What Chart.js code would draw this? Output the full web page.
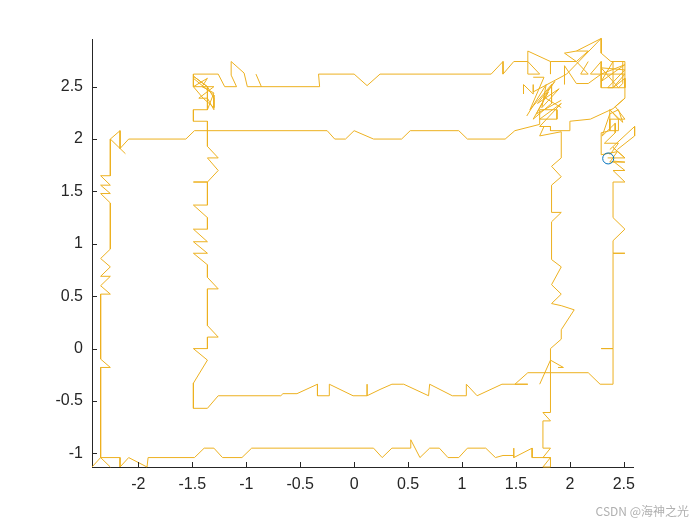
<!DOCTYPE html>
<html>
<head>
<meta charset="utf-8">
<script src="https://cdn.jsdelivr.net/npm/chart.js@4.4.1/dist/chart.umd.min.js"></script>
<style>
  html, body { margin: 0; padding: 0; background: #fff; }
  #wrap { width: 700px; height: 525px; }
</style>
</head>
<body>
<div id="wrap"><canvas id="traj" width="700" height="525"></canvas></div>
<script>
// Axis ticks
const xTicks = [-2, -1.5, -1, -0.5, 0, 0.5, 1, 1.5, 2, 2.5];
const yTicks = [-1, -0.5, 0, 0.5, 1, 1.5, 2, 2.5];

// Trajectory pieces, [x, y] in data units
const outerTop = [[-2.12,1.86],[-2.26,2.00],[-2.17,2.08],[-2.17,1.91],[-2.09,2.00],[-1.56,2.00],[-1.48,2.08],
  [-0.25,2.08],[-0.18,2.00],[-0.08,2.00],[0.00,2.08],[0.18,2.00],[0.44,2.00],[0.52,2.08],[0.97,2.08],
  [1.05,2.00],[1.40,2.00],[1.49,2.08],[1.72,2.14],[1.72,2.28],[1.88,2.28],[1.88,2.19],[1.72,2.19],
  [1.92,2.34],[1.72,2.12],[1.82,2.12],[1.82,2.08],[2.00,2.08],[2.00,2.17],[2.19,2.19],[2.40,2.29],
  [2.51,2.39],[2.51,2.74]];

const outerLeft = [[-2.26,2.00],[-2.26,1.65],[-2.35,1.65],[-2.26,1.56],[-2.35,1.56],[-2.26,1.48],[-2.35,1.48],
  [-2.26,1.39],[-2.26,0.95],[-2.35,0.86],[-2.26,0.78],[-2.35,0.69],[-2.26,0.69],[-2.35,0.60],[-2.26,0.52],
  [-2.35,0.52],[-2.35,-0.10],[-2.26,-0.18],[-2.35,-0.18],[-2.35,-1.04],[-2.43,-1.13]];

const outerBottomRight = [[-2.26,-1.13],[-2.35,-1.04],[-2.17,-1.04],[-2.17,-1.13],[-2.09,-1.04],[-1.92,-1.13],
  [-1.91,-1.04],[-1.48,-1.04],[-1.39,-0.95],[-1.30,-0.95],[-1.22,-1.04],[-1.04,-1.04],[-0.95,-0.95],
  [0.18,-0.95],[0.26,-1.04],[0.35,-0.95],[0.52,-0.95],[0.525,-0.87],[0.61,-1.04],[0.70,-0.95],[0.79,-0.95],
  [0.87,-1.04],[0.97,-1.04],[1.05,-0.95],[1.22,-0.95],[1.31,-1.04],[1.38,-1.02],[1.48,-1.02],[1.48,-0.95],
  [1.48,-1.04],[1.65,-0.95],[1.65,-1.04],[1.82,-1.04],[1.75,-1.13],[1.82,-1.13],[1.82,-1.04],[1.75,-1.04],
  [1.82,-0.95],[1.75,-0.95],[1.75,-0.69],[1.82,-0.69],[1.75,-0.61],[1.82,-0.61],[1.82,0.00],[1.92,0.09],
  [1.92,0.18],[2.04,0.37],[1.92,0.41],[1.83,0.43],[1.92,0.52],[1.83,0.61],[1.92,0.78],[1.83,0.85],
  [1.83,1.21],[1.92,1.30],[1.83,1.30],[1.83,1.56],[1.92,1.64],[1.83,1.74],[1.92,1.82],[1.92,2.07],
  [1.72,2.03],[1.76,2.12]];

const rightNotch = [[1.72,-0.34],[1.82,-0.11],[1.94,-0.18],[1.89,-0.18]];

const topLine = [[-1.26,2.62],[-1.20,2.50],[-1.09,2.50],[-1.14,2.61],[-1.14,2.74],[-1.02,2.63],[-0.99,2.50],
  [-0.32,2.50],[-0.33,2.62],[0.00,2.62],[0.12,2.51],[0.24,2.62],[1.27,2.62],[1.38,2.74],[1.38,2.62],
  [1.48,2.74],[1.61,2.74],[1.72,2.62],[1.61,2.62],[1.61,2.84],[1.82,2.74],[1.82,2.62],[1.82,2.74],
  [2.06,2.74],[1.95,2.82],[2.06,2.84],[2.29,2.96],[2.29,2.82],[2.38,2.74],[2.51,2.74]];

const topStub = [[-0.91,2.62],[-0.86,2.50]];

const tangleA = [[1.57,2.43],[1.57,2.52],[1.66,2.43],[1.66,2.52],[1.66,2.45],[1.97,2.62],[2.29,2.96]];
const tangleB = [[1.95,2.52],[1.95,2.70],[2.06,2.53],[2.17,2.53],[2.29,2.62],[2.19,2.62],[2.29,2.74]];
const tangleC = [[1.66,2.59],[1.76,2.59],[1.63,2.28],[1.83,2.52],[1.83,2.34],[1.66,2.19],[1.80,2.45],
  [1.69,2.24],[1.92,2.37]];
const tangleD = [[1.60,2.22],[1.78,2.52],[1.74,2.30],[1.90,2.48],[1.70,2.34],[1.86,2.55],[1.76,2.40],
  [1.92,2.30]];
const tangleE = [[2.06,2.84],[2.17,2.84],[2.06,2.74],[2.17,2.62],[2.10,2.62],[2.17,2.74]];
const tangleBox = [[2.29,2.74],[2.29,2.49],[2.40,2.49],[2.40,2.74],[2.29,2.55],[2.51,2.71],[2.29,2.62],
  [2.51,2.62],[2.40,2.49],[2.51,2.58],[2.51,2.49],[2.35,2.49],[2.51,2.66],[2.29,2.68],[2.45,2.49],
  [2.49,2.53],[2.49,2.74]];
const tangleLow = [[2.37,1.90],[2.60,2.12],[2.60,2.03],[2.44,1.90]];
const tangleRight = [[2.37,2.28],[2.49,2.16],[2.45,2.28],[2.37,2.24],[2.30,2.03],[2.42,2.15],[2.42,2.06],
  [2.32,1.96],[2.45,1.96],[2.37,1.85]];
const tangleCircle = [[2.35,1.82],[2.51,1.82],[2.40,1.92],[2.51,1.82]];
const tangleLeftTop = [[-1.49,2.58],[-1.30,2.42],[-1.30,2.30],[-1.40,2.39],[-1.49,2.50],[-1.36,2.58],
  [-1.41,2.50],[-1.30,2.44],[-1.36,2.28]];

const innerLoop = [[-1.26,2.62],[-1.49,2.62],[-1.49,2.50],[-1.30,2.50],[-1.44,2.39],[-1.36,2.39],[-1.30,2.28],
  [-1.30,2.39],[-1.36,2.50],[-1.49,2.60],[-1.36,2.50],[-1.36,2.28],[-1.49,2.28],[-1.49,2.17],[-1.36,2.17],
  [-1.36,1.93],[-1.26,1.82],[-1.36,1.82],[-1.26,1.70],[-1.36,1.59],[-1.49,1.59],[-1.36,1.59],[-1.36,1.37],
  [-1.49,1.37],[-1.36,1.25],[-1.36,1.14],[-1.49,1.14],[-1.36,1.02],[-1.49,1.02],[-1.36,0.91],[-1.49,0.91],
  [-1.36,0.80],[-1.36,0.68],[-1.26,0.57],[-1.36,0.57],[-1.36,0.22],[-1.26,0.11],[-1.36,0.11],[-1.36,0.00],
  [-1.49,0.00],[-1.36,-0.11],[-1.49,-0.33],[-1.49,-0.57],[-1.36,-0.57],[-1.26,-0.45],[-0.68,-0.45],
  [-0.66,-0.43],[-0.53,-0.43],[-0.34,-0.34],[-0.34,-0.45],[-0.23,-0.45],[-0.23,-0.34],[-0.01,-0.45],
  [0.12,-0.45],[0.12,-0.34],[0.12,-0.45],[0.24,-0.39],[0.35,-0.34],[0.46,-0.34],[0.69,-0.45],[0.70,-0.34],
  [0.91,-0.45],[1.04,-0.45],[1.04,-0.34],[1.14,-0.45],[1.37,-0.34],[1.61,-0.34],[1.49,-0.34],[1.61,-0.23],
  [2.17,-0.23],[2.28,-0.34],[2.40,-0.34],[2.40,0.00],[2.29,0.00],[2.40,0.00],[2.40,0.91],[2.51,0.91],
  [2.40,0.91],[2.40,1.03],[2.51,1.14],[2.40,1.25],[2.40,1.59],[2.51,1.59],[2.40,1.70],[2.51,1.70],
  [2.40,1.79],[2.51,1.78],[2.37,1.78],[2.44,1.88],[2.29,1.85],[2.29,2.06],[2.37,2.08],[2.37,2.28],
  [2.45,2.19],[2.37,2.19],[2.37,2.08],[2.45,2.08],[2.45,2.19],[2.51,2.19],[2.42,2.31],[2.51,2.39]];

// current position marker
const marker = [[2.355, 1.815]];

const pieces = [outerTop, outerLeft, outerBottomRight, rightNotch, topLine, topStub,
  tangleA, tangleB, tangleC, tangleD, tangleE, tangleBox, tangleLow, tangleRight, tangleCircle,
  tangleLeftTop, innerLoop];

const toPts = arr => arr.map(p => ({ x: p[0], y: p[1] }));

const datasets = [{
  data: toPts(marker),
  showLine: false,
  pointRadius: 5.5,
  pointBorderColor: '#0072BD',
  pointBackgroundColor: 'rgba(0,0,0,0)',
  pointBorderWidth: 1
}].concat(pieces.map(p => ({
  data: toPts(p),
  showLine: true,
  borderColor: '#EDB120',
  borderWidth: 1,
  pointRadius: 0,
  tension: 0,
  clip: 4
})));

// MATLAB style ticks point into the axes
const innerTicks = {
  id: 'innerTicks',
  afterDraw(chart) {
    const ctx = chart.ctx;
    const xs = chart.scales.x, ys = chart.scales.y;
    const a = chart.chartArea;
    ctx.save();
    ctx.strokeStyle = '#262626';
    ctx.lineWidth = 1;
    ctx.beginPath();
    xTicks.forEach(v => {
      const px = Math.round(xs.getPixelForValue(v)) + 0.5;
      ctx.moveTo(px, a.bottom);
      ctx.lineTo(px, a.bottom - 5);
    });
    yTicks.forEach(v => {
      const py = Math.round(ys.getPixelForValue(v)) + 0.5;
      ctx.moveTo(a.left, py);
      ctx.lineTo(a.left + 5, py);
    });
    ctx.stroke();
    // watermark
    ctx.font = '12px "Noto Sans CJK SC", "Liberation Sans", sans-serif';
    ctx.fillStyle = '#b0b0b0';
    ctx.textAlign = 'right';
    ctx.textBaseline = 'alphabetic';
    ctx.fillText('CSDN @海神之光', 689, 516);
    ctx.restore();
  }
};

const tickFont = { family: "'Liberation Sans', Arial, sans-serif", size: 16 };

new Chart(document.getElementById('traj'), {
  type: 'scatter',
  data: { datasets },
  options: {
    responsive: false,
    devicePixelRatio: 1,
    animation: false,
    layout: { padding: { top: 39, right: 67, bottom: 0, left: 0 } },
    plugins: { legend: { display: false }, tooltip: { enabled: false } },
    scales: {
      x: {
        type: 'linear',
        min: -2.43,
        max: 2.585,
        afterBuildTicks: s => { s.ticks = xTicks.map(v => ({ value: v })); },
        afterFit: s => { s.height = 58; },
        ticks: { color: '#262626', font: tickFont, padding: 8, maxRotation: 0, autoSkip: false,
                 callback: v => String(v) },
        grid: { drawOnChartArea: false, drawTicks: false },
        border: { color: '#262626', width: 1 }
      },
      y: {
        type: 'linear',
        min: -1.13,
        max: 2.955,
        afterBuildTicks: s => { s.ticks = yTicks.map(v => ({ value: v })); },
        afterFit: s => { s.width = 92; },
        ticks: { color: '#262626', font: tickFont, padding: 9, autoSkip: false,
                 callback: v => String(v) },
        grid: { drawOnChartArea: false, drawTicks: false },
        border: { color: '#262626', width: 1 }
      }
    }
  },
  plugins: [innerTicks]
});
</script>
</body>
</html>
